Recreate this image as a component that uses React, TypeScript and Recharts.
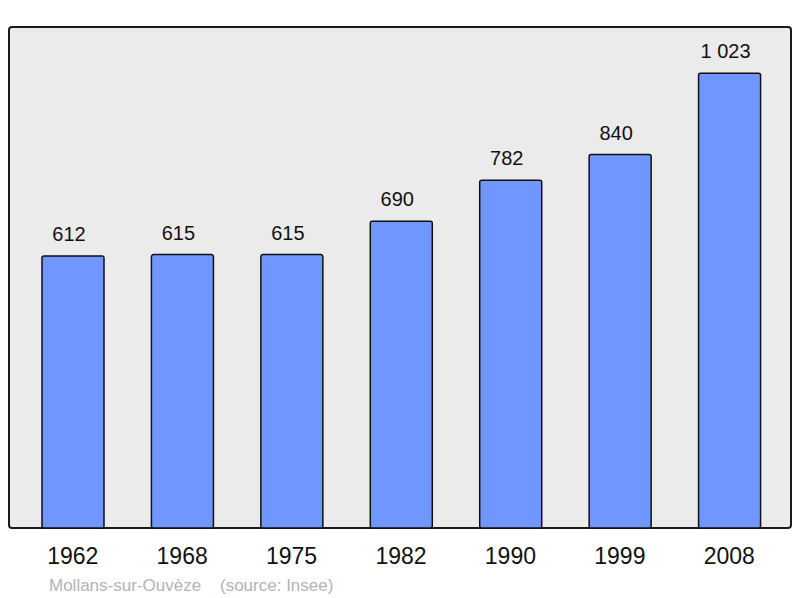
import { BarChart, Bar, XAxis, YAxis, CartesianGrid, LabelList } from "recharts";

const years = ["1962", "1968", "1975", "1982", "1990", "1999", "2008"];
const population = [612, 615, 615, 690, 782, 840, 1023];

const data = years.map((year, i) => ({ year, population: population[i] }));

const W = 800;
const H = 598;
const AXIS_H = 30;
const margin = { top: 27, right: 9, bottom: 40, left: 9 };

const formatPop = (v: number) => String(v).replace(/\B(?=(\d{3})+(?!\d))/g, " ");

// border around the plot area
const Frame = () => (
  <rect
    x={margin.left}
    y={margin.top}
    width={W - margin.left - margin.right}
    height={H - margin.top - margin.bottom - AXIS_H}
    rx={3}
    fill="none"
    stroke="#1a1a1a"
    strokeWidth={2}
  />
);

export default function App() {
  return (
    <div style={{ position: "absolute", left: 0, top: 0, width: W, height: H, fontFamily: "'Liberation Sans', Arial, sans-serif" }}>
      <BarChart width={W} height={H} data={data} margin={margin} barCategoryGap={0}>
        <CartesianGrid horizontal={false} vertical={false} fill="#ebebeb" />
        <XAxis
          dataKey="year"
          height={AXIS_H}
          axisLine={false}
          tickLine={false}
          padding={{ left: 9, right: 7 }}
          tick={{ fontSize: 23, fill: "#111" }}
          dy={12}
        />
        <YAxis hide domain={[0, 1127]} />
        <Bar dataKey="population" fill="#7097ff" stroke="#111" strokeWidth={1.5} barSize={62} radius={2} isAnimationActive={false}>
          <LabelList dataKey="population" position="top" offset={15} dx={-4} formatter={(v: any) => formatPop(Number(v))} style={{ fontSize: 20, fill: "#111" }} />
        </Bar>
        <Frame />
      </BarChart>
      <div style={{ position: "absolute", left: 49, top: 576, fontSize: 17, color: "#b3b3b3", whiteSpace: "pre" }}>
        {"Mollans-sur-Ouvèze    (source: Insee)"}
      </div>
    </div>
  );
}
